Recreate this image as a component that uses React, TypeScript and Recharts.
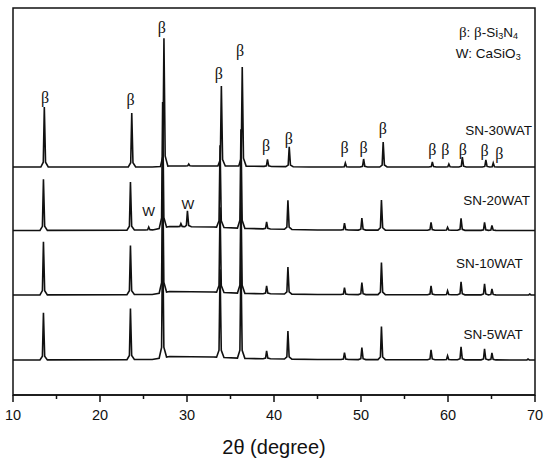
import React from 'react';
import { LineChart, Line, XAxis, YAxis, ReferenceArea, ReferenceDot, Label } from 'recharts';

// peak position (2θ) and height
const sn30Peaks: [number, number][] = [
  [13.6, 60], [23.65, 54], [27.35, 128], [30.2, 2], [33.95, 80], [36.35, 99], [39.25, 7],
  [41.75, 20], [48.2, 4], [50.3, 8], [52.55, 25], [58.2, 5], [60.1, 3], [61.65, 10],
  [64.35, 7], [65.2, 4],
];
const sn20Peaks: [number, number][] = [
  [13.5, 51], [23.5, 48], [25.6, 3], [27.2, 126], [29.3, 3], [30.05, 16], [33.8, 82],
  [36.2, 99], [39.15, 7], [41.6, 29], [48.1, 7], [50.1, 12], [52.35, 30], [58.05, 8],
  [59.95, 3], [61.5, 12], [64.2, 8], [65.05, 5],
];
const sn10Peaks: [number, number][] = [
  [13.5, 53], [23.5, 49], [27.2, 128], [33.8, 85], [36.2, 100], [39.15, 8], [41.6, 27],
  [48.1, 7], [50.1, 12], [52.35, 32], [58.05, 9], [59.95, 4], [61.5, 13], [64.2, 11],
  [65.05, 6], [69.4, 1],
];
const sn5Peaks: [number, number][] = [
  [13.5, 47], [23.5, 51], [27.2, 130], [33.8, 88], [36.2, 100], [39.15, 8], [41.6, 28],
  [48.1, 7], [50.1, 12], [52.35, 33], [58.05, 10], [59.95, 4], [61.5, 13], [64.2, 11],
  [65.05, 7], [69.2, 1],
];

// slow background under each trace (2θ, level)
const sn30Background: [number, number][] = [[10, 0], [26, 0], [28, 1], [36, 1], [44, 0], [70, 0]];
const sn20Background: [number, number][] = [[10, 0], [26, 0.5], [28, 4], [33, 3.5], [37, 2], [45, 0.5], [70, 0]];
const sn10Background: [number, number][] = [[10, 0], [26, 0.5], [28, 3.5], [33, 3], [37, 1.5], [45, 0.5], [70, 0]];
const sn5Background: [number, number][] = [[10, 0], [26, 0.5], [28, 3.5], [33, 3], [37, 1.5], [45, 0.5], [70, 0]];

const traceOffsets = [228, 164.5, 100, 35];
const traceNames = ['SN-30WAT', 'SN-20WAT', 'SN-10WAT', 'SN-5WAT'];

const xTicks = [10, 15, 20, 25, 30, 35, 40, 45, 50, 55, 60, 65, 70];

// phase marks: [2θ, label level]
const betaMarks: [number, number][] = [
  [13.7, 298], [23.5, 296], [27.1, 368], [33.65, 322], [36.1, 345], [39.1, 250],
  [41.7, 257], [48.1, 248], [50.3, 248], [52.5, 267], [58.2, 246], [59.7, 246],
  [61.7, 246], [64.2, 245], [65.9, 242],
];
const wMarks: [number, number][] = [[25.6, 184], [30.1, 191]];
const nameMarks: [number, number][] = [[69.66, 265], [69.43, 195], [68.6, 132], [68.6, 61]];

const INK = '#111';
const SANS = '"Liberation Sans", Arial, sans-serif';
const SERIF = '"Liberation Serif", "Times New Roman", serif';

function bgAt(bg: [number, number][], x: number) {
  for (let i = 1; i < bg.length; i++) {
    if (x <= bg[i][0]) {
      const [x0, y0] = bg[i - 1];
      const [x1, y1] = bg[i];
      return y0 + ((y1 - y0) * (x - x0)) / (x1 - x0);
    }
  }
  return bg[bg.length - 1][1];
}

// line shape of a peak: [dx, fraction of height]
const profile: [number, number][] = [[-0.4, 0], [-0.12, 0.08], [0, 1], [0.14, 0.08], [0.45, 0]];

function buildTrace(peaks: [number, number][], bg: [number, number][], offset: number) {
  const pts: { x: number; y: number }[] = [];
  bg.forEach(([x, y]) => {
    const inside = peaks.some(([p]) => x > p - 0.4 && x < p + 0.45);
    if (!inside) pts.push({ x, y: y + offset });
  });
  peaks.forEach(([p, h]) => {
    profile.forEach(([dx, f]) => {
      const x = p + dx;
      pts.push({ x, y: bgAt(bg, x) + f * h + offset });
    });
  });
  return pts.sort((a, b) => a.x - b.x);
}

const traces = [
  buildTrace(sn30Peaks, sn30Background, traceOffsets[0]),
  buildTrace(sn20Peaks, sn20Background, traceOffsets[1]),
  buildTrace(sn10Peaks, sn10Background, traceOffsets[2]),
  buildTrace(sn5Peaks, sn5Background, traceOffsets[3]),
];

const XTick = (props: any) => {
  const { x, y, payload } = props;
  const major = payload.value % 10 === 0;
  return (
    <g>
      <line x1={x} x2={x} y1={y} y2={y + (major ? 7 : 4)} stroke={INK} strokeWidth={1.5} />
      {major && (
        <text x={x} y={y + 20} textAnchor="middle" dominantBaseline="central" fontSize={14.5} fontFamily={SANS} fill={INK}>
          {payload.value}
        </text>
      )}
    </g>
  );
};

const textAt = (value: React.ReactNode, anchor: 'middle' | 'end', size: number, family: string) =>
  (props: any) => {
    const vb = props.viewBox || {};
    return (
      <text x={vb.x} y={vb.y} textAnchor={anchor} dominantBaseline="central" fontSize={size} fontFamily={family} fill={INK}>
        {value}
      </text>
    );
  };

const App: React.FC = () => {
  return (
    <div style={{ position: 'absolute', left: 0, top: 0, width: 550, height: 463, background: '#fff' }}>
      <LineChart width={550} height={463} margin={{ top: 8, right: 15, bottom: 0, left: 13 }}>
        <XAxis
          type="number"
          dataKey="x"
          domain={[10, 70]}
          ticks={xTicks}
          interval={0}
          allowDataOverflow
          tickSize={0}
          tickMargin={0}
          tickLine={false}
          tick={<XTick />}
          axisLine={{ stroke: INK, strokeWidth: 1.5 }}
          height={68}
        >
          <Label
            content={(props: any) => {
              const vb = props.viewBox;
              return (
                <text x={vb.x + vb.width / 2} y={vb.y + 52} textAnchor="middle" dominantBaseline="central" fontSize={20} fontFamily={SANS} fill={INK}>
                  2θ (degree)
                </text>
              );
            }}
          />
        </XAxis>
        <YAxis type="number" domain={[0, 387]} hide allowDataOverflow />
        <ReferenceArea x1={10} x2={70} y1={0} y2={387} fill="none" stroke={INK} strokeWidth={1.5} ifOverflow="visible" />
        {traces.map((data, i) => (
          <Line
            key={traceNames[i]}
            data={data}
            dataKey="y"
            type="linear"
            stroke={INK}
            strokeWidth={1.6}
            dot={false}
            isAnimationActive={false}
          />
        ))}
        {betaMarks.map(([x, y], i) => (
          <ReferenceDot key={'b' + i} x={x} y={y} r={0} ifOverflow="visible" label={{ content: textAt('β', 'middle', 16, SERIF) }} />
        ))}
        {wMarks.map(([x, y], i) => (
          <ReferenceDot key={'w' + i} x={x} y={y} r={0} ifOverflow="visible" label={{ content: textAt('W', 'middle', 13.5, SANS) }} />
        ))}
        {nameMarks.map(([x, y], i) => (
          <ReferenceDot key={'n' + i} x={x} y={y} r={0} ifOverflow="visible" label={{ content: textAt(traceNames[i], 'end', 13.5, SANS) }} />
        ))}
        <ReferenceDot
          x={68.05}
          y={363}
          r={0}
          ifOverflow="visible"
          label={{
            content: textAt(
              <>
                <tspan fontFamily={SERIF} fontSize={15}>β</tspan>: <tspan fontFamily={SERIF} fontSize={15}>β</tspan>-Si
                <tspan fontSize={9} dy={4}>3</tspan>
                <tspan dy={-4}>N</tspan>
                <tspan fontSize={9} dy={4}>4</tspan>
              </>,
              'end',
              13.5,
              SANS,
            ),
          }}
        />
        <ReferenceDot
          x={68.35}
          y={342}
          r={0}
          ifOverflow="visible"
          label={{
            content: textAt(
              <>
                W: CaSiO
                <tspan fontSize={9} dy={4}>3</tspan>
              </>,
              'end',
              13.5,
              SANS,
            ),
          }}
        />
      </LineChart>
    </div>
  );
};

export default App;
